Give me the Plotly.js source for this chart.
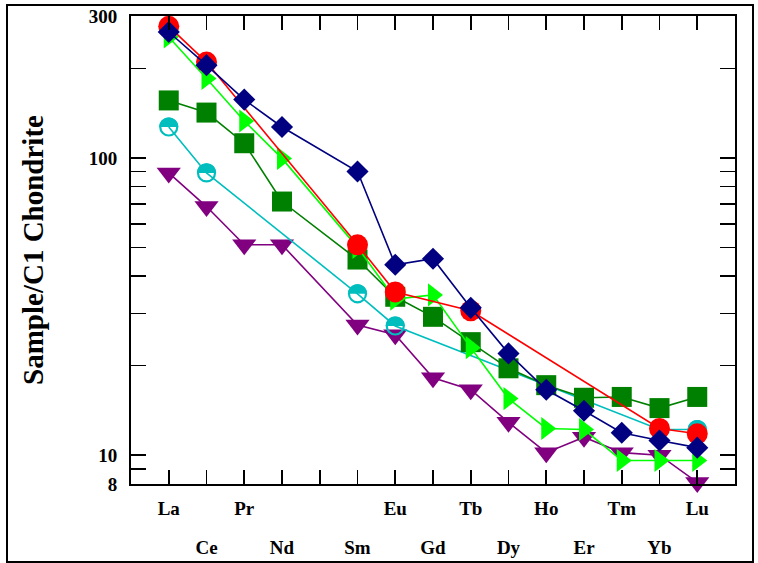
<!DOCTYPE html>
<html>
<head>
<meta charset="utf-8">
<script src="https://cdn.plot.ly/plotly-3.0.1.min.js"></script>
<style>
  html, body { margin: 0; padding: 0; background: #fff; }
  #wrap { position: relative; width: 758px; height: 563px; }
  #chart { width: 758px; height: 563px; }
  #frame { position: absolute; left: 6px; top: 4px; width: 744px; height: 555px; border: 2px solid #000; pointer-events: none; }
</style>
</head>
<body>
<div id="wrap"><div id="chart"></div><div id="frame"></div></div>
<script>
// Element order on the x axis (Pm has a slot but no data/label)
const elements = ['La','Ce','Pr','Nd','Pm','Sm','Eu','Gd','Tb','Dy','Ho','Er','Tm','Yb','Lu'];
const row1Labels = ['La','Pr','Eu','Tb','Ho','Tm','Lu'];
const row2Labels = ['Ce','Nd','Sm','Gd','Dy','Er','Yb'];

const fullREE = ['La','Ce','Pr','Nd','Sm','Eu','Gd','Tb','Dy','Ho','Er','Tm','Yb','Lu'];

const purpleEls = fullREE;
const purpleVals = [89, 68.6, 51, 51, 27.4, 25.4, 18.2, 16.6, 12.9, 10.2, 11.5, 10.2, 10.0, 8.1];

const cyanEls = ['La','Ce','Sm','Eu','Yb','Lu'];
const cyanVals = [127, 89, 34.9, 27.2, 12.2, 12.2];

const dkGreenEls = fullREE;
const dkGreenVals = [156, 142, 112, 71.3, 45.5, 34.1, 29.2, 24, 19.6, 17.2, 15.6, 15.7, 14.4, 15.7];

const ltGreenEls = fullREE;
const ltGreenVals = [255, 185, 133, 99.6, 50, 33.5, 34.6, 23, 15.5, 12.3, 12.2, 9.6, 9.6, 9.6];

const redEls = ['La','Ce','Sm','Eu','Tb','Yb','Lu'];
const redVals = [277, 210, 51, 35.4, 30.6, 12.3, 11.8];

const navyEls = fullREE;
const navyVals = [265, 205, 157, 127, 90, 43.7, 45.8, 31.3, 22, 16.6, 14.1, 11.9, 11.2, 10.6];

const yMajor = [8, 10, 100, 300];
const yMinor = [9, 20, 30, 40, 50, 60, 70, 80, 90, 200];

const pos = el => elements.indexOf(el) + 1;

function series(els, vals, color, symbol, size, extra) {
  const m = Object.assign({ color: color, symbol: symbol, size: size, line: { width: 0 } }, extra || {});
  return {
    x: els.map(pos), y: vals, type: 'scatter', mode: 'lines+markers',
    line: { color: color, width: 1.6 }, marker: m, hoverinfo: 'skip', showlegend: false,
    cliponaxis: false
  };
}

const cyanColor = '#00BEBE';
const traces = [
  series(purpleEls, purpleVals, '#800080', 'triangle-down', 21),
  series(cyanEls, cyanVals, cyanColor, 'circle', 17, { color: 'rgba(0,0,0,0)', line: { color: cyanColor, width: 2.2 } }),
  series(dkGreenEls, dkGreenVals, '#008000', 'square', 20),
  series(ltGreenEls, ltGreenVals, '#00FF00', 'triangle-right', 20),
  series(redEls, redVals, '#FF0000', 'circle', 21),
  series(navyEls, navyVals, '#000080', 'diamond', 17),
  // empty trace so the second label row axis is drawn
  { x: [], y: [], type: 'scatter', mode: 'markers', xaxis: 'x2', yaxis: 'y', hoverinfo: 'skip', showlegend: false }
];

// upper half of the cyan circles filled (built from the cyan data)
const R = 9.6;
let pts = [];
for (let i = 0; i <= 24; i++) {
  const t = Math.PI * i / 24;
  pts.push((R * Math.cos(t)).toFixed(2) + ',' + (R * Math.sin(t)).toFixed(2));
}
const halfPath = 'M' + pts.join(' L') + ' Z';
const shapes = cyanEls.map((el, i) => ({
  type: 'path', xref: 'x', yref: 'y', xsizemode: 'pixel', ysizemode: 'pixel',
  xanchor: pos(el), yanchor: cyanVals[i], path: halfPath,
  fillcolor: cyanColor, line: { width: 0 }, layer: 'below'
}));

const font = { family: 'Liberation Serif, Times New Roman, serif', size: 19, color: '#000' };

const layout = {
  width: 758, height: 563,
  margin: { l: 131, r: 23, t: 16, b: 79 },
  paper_bgcolor: '#fff', plot_bgcolor: '#fff',
  font: font,
  showlegend: false,
  shapes: shapes,
  xaxis: {
    range: [0, 16], showgrid: false, zeroline: false,
    showline: true, linecolor: '#000', linewidth: 2, mirror: 'allticks',
    ticks: 'inside', ticklen: 14, tickwidth: 1.6, tickcolor: '#000',
    tickvals: elements.map((e, i) => i + 1),
    ticktext: elements.map(e => row1Labels.includes(e) ? '<b>' + e + '</b>' : ''),
    ticklabelstandoff: 6,
    tickfont: font
  },
  xaxis2: {
    overlaying: 'x', anchor: 'y', side: 'bottom', range: [0, 16],
    showgrid: false, zeroline: false, showline: false, ticks: '',
    tickvals: row2Labels.map(pos),
    ticktext: row2Labels.map(e => '<b>' + e + '</b>'),
    ticklabelstandoff: 50,
    tickfont: font
  },
  yaxis: {
    type: 'log', range: [Math.log10(8), Math.log10(300)],
    showgrid: false, zeroline: false,
    showline: true, linecolor: '#000', linewidth: 2, mirror: 'allticks',
    ticks: 'inside', ticklen: 15, tickwidth: 1.6, tickcolor: '#000',
    tickvals: yMajor, ticktext: yMajor.map(v => '<b>' + v + '</b>'),
    ticklabelstandoff: 8,
    tickfont: font,
    minor: { tickvals: yMinor, ticks: 'inside', ticklen: 9, tickwidth: 1.6, tickcolor: '#000', showgrid: false },
    title: { text: '<b>Sample/C1 Chondrite</b>', font: { family: 'Liberation Serif, Times New Roman, serif', size: 29, color: '#000' }, standoff: 37 }
  }
};

Plotly.newPlot('chart', traces, layout, { staticPlot: true, displayModeBar: false });
</script>
</body>
</html>
